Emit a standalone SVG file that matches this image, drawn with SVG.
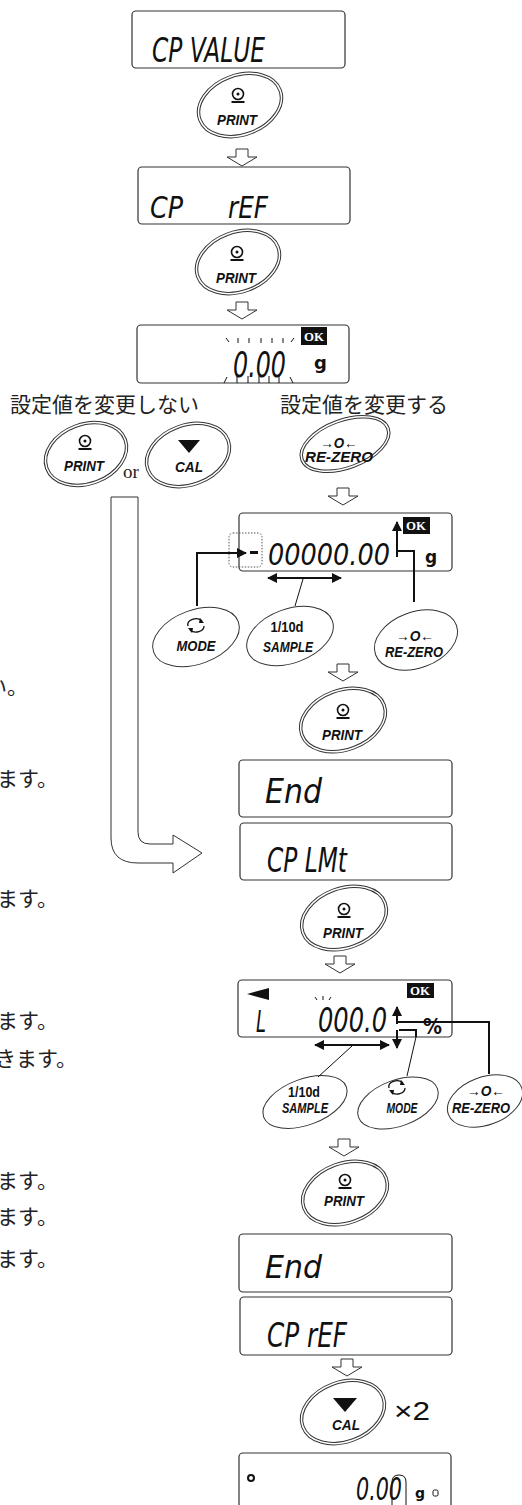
<svg xmlns="http://www.w3.org/2000/svg" xmlns:xlink="http://www.w3.org/1999/xlink" width="522" height="1505" viewBox="0 0 522 1505">
<defs>
<style>
.lcdbox{fill:#fff;stroke:#333;stroke-width:1.2}
.seg{font-family:"DejaVu Sans",sans-serif;font-style:italic;font-weight:200;fill:#111}
.ok{fill:#111}
.okt{font-family:"Liberation Serif",serif;font-weight:bold;font-size:12px;fill:#fff}
.bo{fill:#fff;stroke:#333;stroke-width:1}
.bi{fill:none;stroke:#333;stroke-width:1}
.bl{font-family:"Liberation Sans",Arial,sans-serif;font-weight:bold;font-style:italic;font-size:15px;fill:#111;text-anchor:middle}
.bn{font-family:"Liberation Sans",Arial,sans-serif;font-weight:bold;font-size:14px;fill:#111;text-anchor:middle}
.jp{font-family:"Liberation Serif","Noto Sans CJK JP",serif;font-size:21px;fill:#222}
.ha{fill:#fff;stroke:#333;stroke-width:1}
.ln{fill:none;stroke:#111;stroke-width:2}
.thin{fill:none;stroke:#111;stroke-width:1}
.tick{stroke:#111;stroke-width:1}
.unit{font-family:"DejaVu Sans",sans-serif;font-weight:bold;fill:#111}
</style>
<path id="harrow" class="ha" d="M-6,0 H6 V8 H15 L0,17 L-15,8 H-6 Z"/>
<g id="prt">
<circle cx="0" cy="0" r="5.5" fill="none" stroke="#111" stroke-width="1.6"/>
<circle cx="0" cy="0" r="1.5" fill="#111"/>
<line x1="-6.5" y1="8" x2="6.5" y2="8" stroke="#111" stroke-width="2"/>
</g>
<g id="mode">
<path d="M-8,1 A8,6 0 0 1 6,-4" fill="none" stroke="#111" stroke-width="1.3"/>
<path d="M4,-7 L8,-2 L3,-2 Z" fill="#111"/>
<path d="M8,1 A8,6 0 0 1 -6,5" fill="none" stroke="#111" stroke-width="1.3"/>
<path d="M-4,8 L-8,3 L-3,3 Z" fill="#111"/>
</g>
<marker id="ah" viewBox="0 0 10 10" refX="9" refY="5" markerWidth="5" markerHeight="5" orient="auto-start-reverse">
<path d="M0,0 L10,5 L0,10 Z" fill="#111"/>
</marker>
</defs>
<rect width="522" height="1505" fill="#fff"/>

<g id="d1">
<rect class="lcdbox" x="132" y="11" width="213" height="57" rx="4"/>
<text class="seg" x="152" y="62" font-size="33" textLength="113" lengthAdjust="spacingAndGlyphs">CP VALUE</text>
</g>
<g id="b1">
<g transform="translate(240,105) rotate(-20)"><ellipse class="bo" rx="44" ry="31"/><ellipse class="bi" rx="41.5" ry="28.5"/></g>
<use xlink:href="#prt" x="238" y="94"/>
<text class="bl" x="237" y="125" textLength="40" lengthAdjust="spacingAndGlyphs">PRINT</text>
</g>
<g id="d2">
<rect class="lcdbox" x="138" y="167" width="212" height="57" rx="4"/>
<text class="seg" x="150" y="218" font-size="30" textLength="33" lengthAdjust="spacingAndGlyphs">CP</text>
<text class="seg" x="228" y="218" font-size="30" textLength="40" lengthAdjust="spacingAndGlyphs">rEF</text>
</g>
<g id="b2">
<g transform="translate(238,262) rotate(-20)"><ellipse class="bo" rx="44" ry="31"/><ellipse class="bi" rx="41.5" ry="28.5"/></g>
<use xlink:href="#prt" x="237" y="252"/>
<text class="bl" x="236" y="283" textLength="40" lengthAdjust="spacingAndGlyphs">PRINT</text>
</g>
<g id="d3">
<rect class="lcdbox" x="137" y="325" width="212" height="58" rx="4"/>
<rect class="ok" x="301" y="327" width="26" height="18"/>
<text class="okt" x="304" y="341" textLength="20" lengthAdjust="spacingAndGlyphs">OK</text>
<g class="tick">
<line x1="226" y1="338" x2="229" y2="342"/><line x1="238" y1="338" x2="238" y2="343"/><line x1="249" y1="338" x2="249" y2="343"/><line x1="261" y1="338" x2="261" y2="343"/><line x1="272" y1="338" x2="272" y2="343"/><line x1="283" y1="338" x2="283" y2="343"/><line x1="294" y1="338" x2="291" y2="342"/>
<line x1="224" y1="383" x2="227" y2="377"/><line x1="237" y1="376" x2="237" y2="383"/><line x1="248" y1="376" x2="248" y2="383"/><line x1="259" y1="376" x2="259" y2="383"/><line x1="269" y1="376" x2="269" y2="383"/><line x1="279" y1="376" x2="279" y2="383"/><line x1="293" y1="383" x2="290" y2="377"/>
</g>
<text class="seg" x="233" y="377" font-size="36" textLength="53" lengthAdjust="spacingAndGlyphs">0.00</text>
<text class="unit" x="314" y="369" font-size="18">g</text>
</g>
<g id="lbl1"><text class="jp" x="10" y="412">設定値を変更しない</text></g>
<g id="lbl2"><text class="jp" x="280" y="412">設定値を変更する</text></g>
<g id="b3">
<g transform="translate(86,454) rotate(-20)"><ellipse class="bo" rx="43" ry="31"/><ellipse class="bi" rx="40.5" ry="28.5"/></g>
<use xlink:href="#prt" x="85" y="441"/>
<text class="bl" x="84" y="471" textLength="40" lengthAdjust="spacingAndGlyphs">PRINT</text>
</g>
<g id="or"><text x="123" y="478" font-family="Liberation Serif,serif" font-size="19" fill="#222">or</text></g>
<g id="b4">
<g transform="translate(188,455) rotate(-20)"><ellipse class="bo" rx="44" ry="31"/><ellipse class="bi" rx="41.5" ry="28.5"/></g>
<polygon points="178,440 200,440 189,453" fill="#111"/>
<text class="bl" x="189" y="472" textLength="28" lengthAdjust="spacingAndGlyphs">CAL</text>
</g>
<g id="b5">
<g transform="translate(345,444) rotate(-20)"><ellipse class="bo" rx="47" ry="25"/><ellipse class="bi" rx="44.5" ry="22.5"/></g>
<text class="bl" x="339" y="448" font-size="15" textLength="37" lengthAdjust="spacingAndGlyphs">→O←</text>
<text class="bl" x="339" y="462" textLength="68" lengthAdjust="spacingAndGlyphs">RE-ZERO</text>
</g>
<g id="d4">
<rect class="lcdbox" x="239" y="513" width="213" height="58" rx="4"/>
<rect class="ok" x="403" y="517" width="27" height="17"/>
<text class="okt" x="406" y="530" textLength="20" lengthAdjust="spacingAndGlyphs">OK</text>
<rect x="229" y="533" width="33" height="34" rx="4" fill="none" stroke="#555" stroke-width="1" stroke-dasharray="1.5,1.5"/>
<rect x="250" y="551" width="8" height="3" fill="#111"/>
<text class="seg" x="268" y="565" font-size="30" textLength="122" lengthAdjust="spacingAndGlyphs">00000.00</text>
<text class="unit" x="425" y="563" font-size="17">g</text>
</g>
<g id="b6">
<g transform="translate(196,637) rotate(-20)"><ellipse class="bo" rx="45" ry="27"/></g>
<use xlink:href="#mode" x="196" y="625"/>
<text class="bl" x="196" y="651" textLength="39" lengthAdjust="spacingAndGlyphs">MODE</text>
</g>
<g id="b7">
<g transform="translate(290,636) rotate(-20)"><ellipse class="bo" rx="45" ry="27"/></g>
<text class="bn" x="287" y="632" textLength="33" lengthAdjust="spacingAndGlyphs">1/10d</text>
<text class="bl" x="288" y="652" textLength="50" lengthAdjust="spacingAndGlyphs">SAMPLE</text>
</g>
<g id="b8">
<g transform="translate(416,640) rotate(-20)"><ellipse class="bo" rx="43" ry="28"/></g>
<text class="bl" x="415" y="641" font-size="15" textLength="38" lengthAdjust="spacingAndGlyphs">→O←</text>
<text class="bl" x="414" y="657" textLength="58" lengthAdjust="spacingAndGlyphs">RE-ZERO</text>
</g>
<g id="b9">
<g transform="translate(343,720) rotate(-20)"><ellipse class="bo" rx="45" ry="31"/><ellipse class="bi" rx="42.5" ry="28.5"/></g>
<use xlink:href="#prt" x="343" y="710"/>
<text class="bl" x="342" y="740" textLength="40" lengthAdjust="spacingAndGlyphs">PRINT</text>
</g>
<g id="d5">
<rect class="lcdbox" x="239" y="760" width="213" height="57" rx="4"/>
<text class="seg" x="265" y="803" font-size="33" textLength="57" lengthAdjust="spacingAndGlyphs">End</text>
</g>
<g id="d6">
<rect class="lcdbox" x="240" y="823" width="212" height="57" rx="4"/>
<text class="seg" x="267" y="872" font-size="34" textLength="80" lengthAdjust="spacingAndGlyphs">CP LMt</text>
</g>
<g id="b10">
<g transform="translate(344,918) rotate(-20)"><ellipse class="bo" rx="45" ry="31"/><ellipse class="bi" rx="42.5" ry="28.5"/></g>
<use xlink:href="#prt" x="344" y="909"/>
<text class="bl" x="343" y="938" textLength="40" lengthAdjust="spacingAndGlyphs">PRINT</text>
</g>
<g id="d7">
<rect class="lcdbox" x="238" y="980" width="214" height="57" rx="4"/>
<polygon points="247,994 269,988 269,1000" fill="#111"/>
<rect class="ok" x="407" y="983" width="27" height="15"/>
<text class="okt" x="410" y="995" font-size="11" textLength="20" lengthAdjust="spacingAndGlyphs">OK</text>
<g class="tick">
<line x1="315" y1="997" x2="317" y2="1000"/><line x1="323" y1="996" x2="323" y2="1000"/><line x1="331" y1="997" x2="329" y2="1000"/>
</g>
<text class="seg" x="256" y="1032" font-size="30" textLength="10" lengthAdjust="spacingAndGlyphs">L</text>
<text class="seg" x="318" y="1032" font-size="34" textLength="69" lengthAdjust="spacingAndGlyphs">000.0</text>
<text class="unit" x="423" y="1034" font-size="21" textLength="19" lengthAdjust="spacingAndGlyphs">%</text>
</g>
<g id="b11">
<g transform="translate(305,1102) rotate(-20)"><ellipse class="bo" rx="44" ry="23"/></g>
<text class="bn" x="304" y="1097" font-size="13" textLength="32" lengthAdjust="spacingAndGlyphs">1/10d</text>
<text class="bl" x="305" y="1113" font-size="14" textLength="46" lengthAdjust="spacingAndGlyphs">SAMPLE</text>
</g>
<g id="b12">
<g transform="translate(398,1103) rotate(-20)"><ellipse class="bo" rx="42" ry="23"/></g>
<use xlink:href="#mode" x="397" y="1087"/>
<text class="bl" x="402" y="1113" font-size="14" textLength="31" lengthAdjust="spacingAndGlyphs">MODE</text>
</g>
<g id="b13">
<g transform="translate(485,1101) rotate(-20)"><ellipse class="bo" rx="39" ry="24"/></g>
<text class="bl" x="486" y="1096" font-size="14" textLength="38" lengthAdjust="spacingAndGlyphs">→O←</text>
<text class="bl" x="481" y="1113" font-size="14" textLength="58" lengthAdjust="spacingAndGlyphs">RE-ZERO</text>
</g>
<g id="b14">
<g transform="translate(345,1193) rotate(-20)"><ellipse class="bo" rx="45" ry="31"/><ellipse class="bi" rx="42.5" ry="28.5"/></g>
<use xlink:href="#prt" x="345" y="1180"/>
<text class="bl" x="344" y="1206" textLength="40" lengthAdjust="spacingAndGlyphs">PRINT</text>
</g>
<g id="d8">
<rect class="lcdbox" x="239" y="1234" width="213" height="58" rx="4"/>
<text class="seg" x="265" y="1278" font-size="32" textLength="57" lengthAdjust="spacingAndGlyphs">End</text>
</g>
<g id="d9">
<rect class="lcdbox" x="240" y="1297" width="212" height="58" rx="4"/>
<text class="seg" x="267" y="1347" font-size="34" textLength="80" lengthAdjust="spacingAndGlyphs">CP rEF</text>
</g>
<g id="b15">
<g transform="translate(343,1412) rotate(-20)"><ellipse class="bo" rx="44" ry="31"/><ellipse class="bi" rx="41.5" ry="28.5"/></g>
<polygon points="333,1398 357,1398 345,1412" fill="#111"/>
<text class="bl" x="346" y="1430" textLength="28" lengthAdjust="spacingAndGlyphs">CAL</text>
</g>
<g id="x2"><text x="394" y="1420" font-family="Liberation Sans,Arial,sans-serif" font-size="25" fill="#111" textLength="36" lengthAdjust="spacingAndGlyphs">×2</text></g>
<g id="d10">
<rect class="lcdbox" x="239" y="1453" width="212" height="60" rx="4"/>
<circle cx="251" cy="1478" r="3" fill="none" stroke="#111" stroke-width="2"/>
<text class="seg" x="356" y="1500" font-size="32" textLength="46" lengthAdjust="spacingAndGlyphs">0.00</text>
<path d="M392,1505 V1482 Q392,1475 399,1475 Q406,1475 406,1482 V1505" fill="none" stroke="#111" stroke-width="1"/>
<text class="unit" x="415" y="1498" font-size="14">g</text>
<rect x="433" y="1490" width="5" height="6" rx="1.5" fill="none" stroke="#111" stroke-width="1"/>
</g>

<g id="lefttext">
<text class="jp" x="-14" y="694">い。</text>
<text class="jp" x="-3" y="786">ます。</text>
<text class="jp" x="-3" y="906">ます。</text>
<text class="jp" x="-3" y="1028">ます。</text>
<text class="jp" x="-5" y="1066">きます。</text>
<text class="jp" x="-3" y="1188">ます。</text>
<text class="jp" x="-3" y="1224">ます。</text>
<text class="jp" x="-3" y="1266">ます。</text>
</g>

<g id="connectors">
<use xlink:href="#harrow" x="242" y="149"/>
<use xlink:href="#harrow" x="242" y="302"/>
<use xlink:href="#harrow" x="343" y="488"/>
<use xlink:href="#harrow" x="343" y="664"/>
<use xlink:href="#harrow" x="340" y="956"/>
<use xlink:href="#harrow" x="344" y="1139"/>
<use xlink:href="#harrow" x="347" y="1359"/>
<path class="ha" d="M111,497 V838 Q111,863 138,863 H173 V873 L202,853 L173,835 V844 H150 Q138,844 138,832 V497 Z"/>
<polyline class="ln" points="197,606 197,553 246,553" marker-end="url(#ah)"/>
<line class="ln" x1="397" y1="557" x2="397" y2="522" marker-end="url(#ah)"/>
<polyline class="ln" points="397,551 414,551 414,602"/>
<line class="ln" x1="268" y1="578" x2="341" y2="578" marker-start="url(#ah)" marker-end="url(#ah)"/>
<line class="thin" x1="303" y1="579" x2="295" y2="606"/>
<line class="ln" x1="397" y1="1024" x2="397" y2="1007" marker-end="url(#ah)"/>
<polyline class="ln" points="397,1022 489,1022 489,1074"/>
<line class="ln" x1="397" y1="1030" x2="397" y2="1048" marker-end="url(#ah)"/>
<polyline class="ln" points="399,1030 416,1030 416,1037"/>
<line class="thin" x1="416" y1="1037" x2="407" y2="1076"/>
<line class="ln" x1="315" y1="1045" x2="389" y2="1045" marker-start="url(#ah)" marker-end="url(#ah)"/>
<line class="thin" x1="352" y1="1046" x2="318" y2="1077"/>
</g>
</svg>
